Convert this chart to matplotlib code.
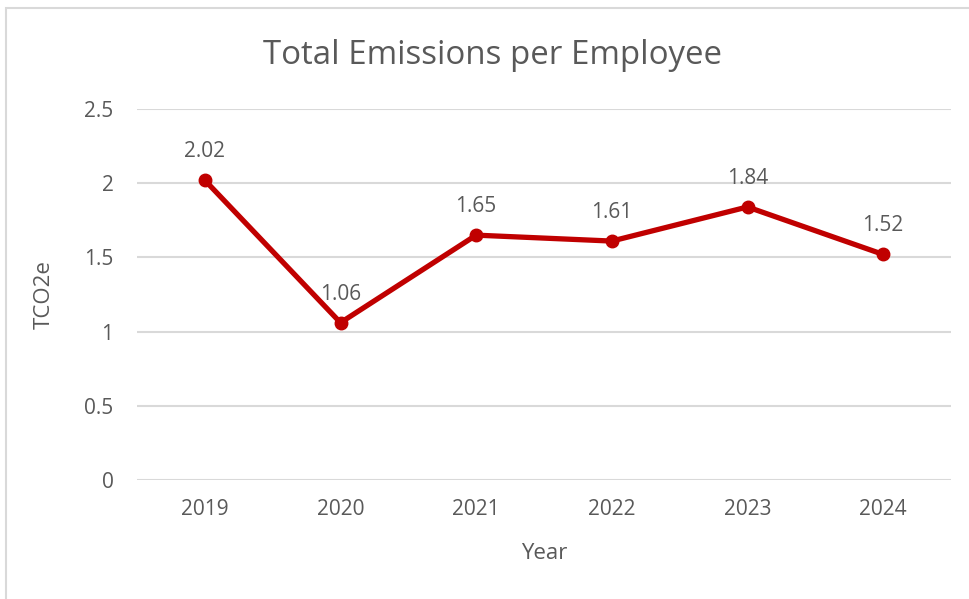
import matplotlib
matplotlib.use("Agg")
import matplotlib.pyplot as plt
from matplotlib.patches import Rectangle

years = ["2019", "2020", "2021", "2022", "2023", "2024"]
values = [2.02, 1.06, 1.65, 1.61, 1.84, 1.52]
y_ticks = [0, 0.5, 1, 1.5, 2, 2.5]
y_tick_labels = ["0", "0.5", "1", "1.5", "2", "2.5"]

plt.rcParams['font.family'] = ['Open Sans', 'DejaVu Sans']
TXT = "#595959"
LINE = "#C00000"
GRID = "#D9D9D9"

fig = plt.figure(figsize=(9.70, 5.99), dpi=100)
fig.patch.set_facecolor("white")

# chart area border (only left and top visible)
fig.patches.append(Rectangle((6/970, -0.1), 1.2, 1 - 8/599 + 0.1, transform=fig.transFigure,
                             fill=False, edgecolor=GRID, linewidth=1.5, zorder=0))

ax = fig.add_axes([137/970, 1 - 480/599, (951 - 137)/970, (480 - 109)/599])
x = list(range(len(years)))
ax.plot(x, values, color=LINE, linewidth=3.8, marker="o", markersize=9,
        markerfacecolor=LINE, markeredgecolor=LINE, zorder=3, solid_capstyle="round")
for xi, v in zip(x, values):
    ax.annotate(f"{v:.2f}", (xi, v), xytext=(0, 13), textcoords="offset points",
                ha="center", va="bottom", color=TXT, fontsize=15)

ax.set_xlim(-0.5, len(years) - 0.5)
ax.set_ylim(0, 2.5)
ax.set_xticks(x)
ax.set_xticklabels(years)
ax.set_yticks(y_ticks)
ax.set_yticklabels(y_tick_labels)
ax.tick_params(axis="both", length=0, colors=TXT, labelsize=15)
ax.tick_params(axis="y", pad=17)
ax.tick_params(axis="x", pad=14)
for s in ax.spines.values():
    s.set_visible(False)
ax.grid(axis="y", color=GRID, linewidth=1.5)
ax.set_axisbelow(True)

ax.set_xlabel("Year", color=TXT, fontsize=16, labelpad=16)
ax.set_ylabel("TCO2e", color=TXT, fontsize=16, labelpad=21)
fig.text(493/970, 1 - 55/599, "Total Emissions per Employee", ha="center", va="center",
         color=TXT, fontsize=23.8)

fig.savefig("out.png", dpi=100, facecolor="white")
